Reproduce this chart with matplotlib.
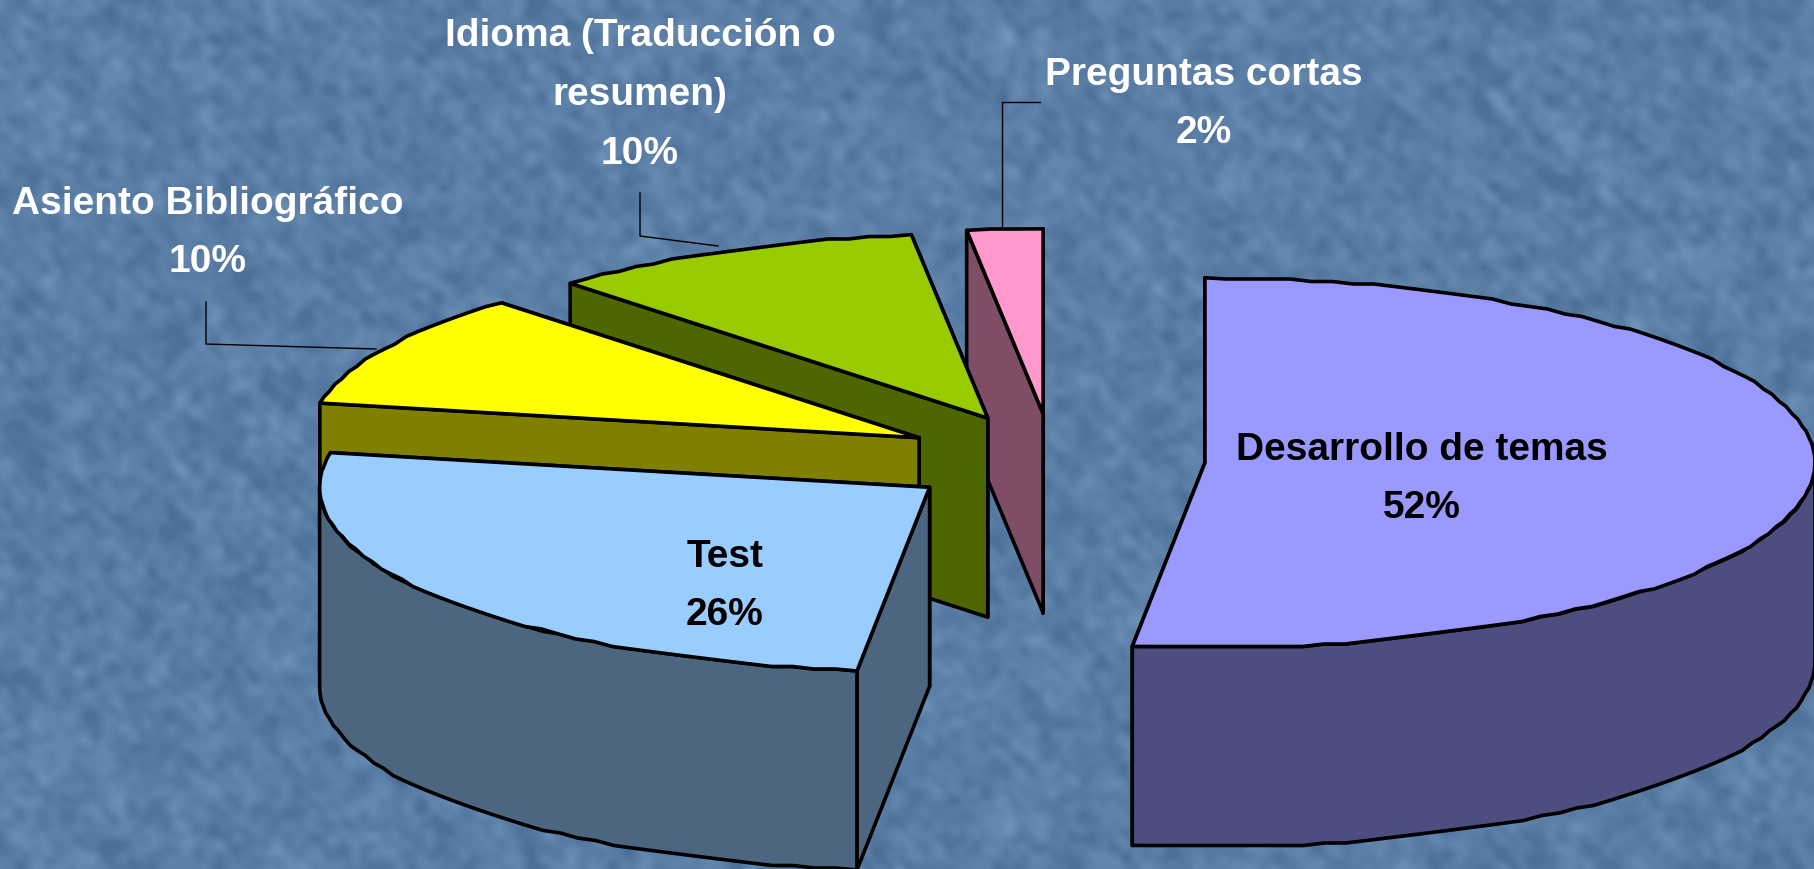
#!/usr/bin/env python

import numpy as np
from matplotlib import pyplot as plt
from matplotlib.patches import Polygon

# chart values, clockwise from 12 o'clock (slice angles, labels show them rounded)
names = ['Desarrollo de temas', 'Test', 'Asiento Bibliográfico',
         'Idioma (Traducción o\nresumen)', 'Preguntas cortas']
values = [51.9, 26.1, 10, 10, 2]
top_colors = ['#9999FF', '#99CCFF', '#FFFF00', '#99CC00', '#FF99CC']
side_colors = ['#4D4D80', '#4D6680', '#808000', '#4D6600', '#804D66']
label_colors = ['black', 'black', 'white', 'white', 'white']
label_pos = [(1422, 479), (725, 586), (208, 233), (640, 95), (1204, 104)]

# leader lines for the outside labels
leaders = [([206, 206, 376], [303, 345, 350]),
           ([640, 640, 718], [194, 237, 247]),
           ([1040, 1002, 1002], [103, 103, 229])]

# pie geometry in image pixels
cx, cy = 1052.7, 461.0
rx, ry = 610.0, 185.0
depth = 199.0
explode = 0.25

W, H = 1815, 870

plt.rcParams['font.family'] = ['Liberation Sans', 'DejaVu Sans']
plt.rcParams['path.simplify'] = False

fig = plt.figure(figsize=(W / 100.0, H / 100.0), dpi=100)
ax = fig.add_axes([0, 0, 1, 1])
ax.set_xlim(0, W)
ax.set_ylim(H, 0)
ax.axis('off')


def background():
    # slide texture only, not chart data: filtered noise, soft blotches plus a few diagonal streaks
    rng = np.random.default_rng(7)
    noise = rng.normal(size=(H, W))
    fy = np.fft.fftfreq(H)[:, None]
    fx = np.fft.rfftfreq(W)[None, :]
    u = (fx + fy) / np.sqrt(2)
    v = (fx - fy) / np.sqrt(2)
    streak = np.exp(-(u * 60) ** 2 - (v * 16) ** 2)
    blotch = np.exp(-(u * 22) ** 2 - (v * 22) ** 2)
    a = np.fft.irfft2(np.fft.rfft2(noise) * streak, s=(H, W))
    b = np.fft.irfft2(np.fft.rfft2(noise[::-1]) * blotch, s=(H, W))
    tex = 0.4 * a / a.std() + 0.7 * b / b.std()
    tex = np.clip(tex, -2.0, 4.0)[:, :, None]
    base = np.array([90, 126, 165]) / 255.0
    return np.clip(base + tex * np.array([0.026, 0.026, 0.024]), 0, 1)


def rim(c, angle):
    a = np.radians(angle)
    return c[0] + rx * np.sin(a), c[1] - ry * np.cos(a)


def arc(c, a0, a1):
    n = max(int((a1 - a0) / 2.0), 1) + 1
    x, y = rim(c, np.linspace(a0, a1, n))
    # the original outline is a bit stepped, it was drawn at low resolution
    y[1:-1] = np.round(y[1:-1] / 2.5) * 2.5
    return np.column_stack([x, y])


def add_poly(pts, color):
    ax.add_patch(Polygon(pts, closed=True, facecolor=color, edgecolor='black',
                         linewidth=2.6, joinstyle='round', clip_on=True))


ax.imshow(background(), extent=(0, W, H, 0), aspect='auto', interpolation='bilinear')

edges = np.cumsum([0] + values) / float(sum(values)) * 360.0
slices = []
for i in range(len(values)):
    mid = np.radians((edges[i] + edges[i + 1]) / 2.0)
    c = (cx + explode * rx * np.sin(mid), cy - explode * ry * np.cos(mid))
    slices.append((i, c, edges[i], edges[i + 1]))

# back slices first so the front ones sit over them
for i, c, a0, a1 in sorted(slices, key=lambda s: s[1][1]):
    # the two cut faces, the one further back goes down first
    for ang in sorted([a0, a1], key=lambda a: -np.cos(np.radians(a))):
        p = rim(c, ang)
        add_poly([c, p, (p[0], p[1] + depth), (c[0], c[1] + depth)], side_colors[i])
    # outer wall, only the front half of the rim shows
    w0, w1 = max(a0, 90.0), min(a1, 270.0)
    if w1 > w0:
        upper = arc(c, w0, w1)
        lower = upper[::-1] + [0, depth]
        add_poly(np.vstack([upper, lower]), side_colors[i])
    add_poly(np.vstack([[c], arc(c, a0, a1)]), top_colors[i])

for xs, ys in leaders:
    ax.plot(xs, ys, color='black', linewidth=1.0)

for i in range(len(values)):
    ax.text(label_pos[i][0], label_pos[i][1], names[i] + '\n' + format(values[i], '.0f') + '%',
            color=label_colors[i], fontsize=28, fontweight='bold',
            ha='center', va='center', linespacing=1.82)

fig.savefig('out.png', dpi=100)
